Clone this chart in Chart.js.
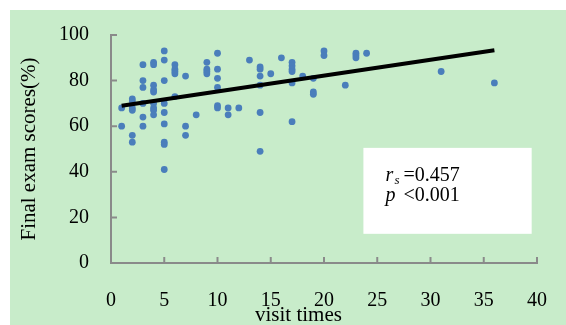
<!DOCTYPE html>
<html>
<head>
<meta charset="utf-8">
<script src="https://cdn.jsdelivr.net/npm/chart.js@4/dist/chart.umd.min.js"></script>
<style>
  html, body { margin: 0; padding: 0; background: #fff; }
  canvas { display: block; }
</style>
</head>
<body>
<canvas id="c" width="566" height="325"></canvas>
<script>
// số lần truy cập và điểm thi cuối kỳ
const visits = [
  1, 1,
  2, 2, 2, 2, 2, 2,
  3, 3, 3, 3, 3, 3,
  4, 4, 4, 4, 4, 4, 4, 4, 4,
  5, 5, 5, 5, 5, 5, 5, 5, 5,
  6, 6, 6, 6, 6,
  7, 7, 7,
  8,
  9, 9, 9, 9,
  10, 10, 10, 10, 10, 10,
  11, 11,
  12,
  13,
  14, 14, 14, 14, 14, 14,
  15,
  16,
  17, 17, 17, 17, 17, 17,
  18,
  19, 19, 19,
  20, 20,
  22,
  23, 23, 23,
  24,
  31,
  36
];
const scores = [
  68, 60,
  72, 71, 68, 67, 56, 53,
  87, 80, 77, 70, 64, 60,
  88, 87, 78, 76, 75, 70, 68, 67, 65,
  93, 89, 80, 70, 66, 61, 53, 52, 41,
  87, 85, 84, 83, 73,
  82, 60, 56,
  65,
  88, 85, 84, 83,
  92, 85, 81, 77, 69, 68,
  68, 65,
  68,
  89,
  86, 85, 82, 78, 66, 49,
  83,
  90,
  88, 86.5, 85, 84, 79, 62,
  82,
  81, 75, 74,
  93, 91,
  78,
  92, 91, 90,
  92,
  84,
  79
];
// đường xu hướng
const trendX = [1, 36];
const trendY = [69, 93.3];

const xTicks = [0, 5, 10, 15, 20, 25, 30, 35, 40];
const yTicks = [0, 20, 40, 60, 80, 100];

const serif = '"Liberation Serif", "Times New Roman", serif';
const axisGray = '#8a8a8a';

const points = visits.map((v, i) => ({ x: v, y: scores[i] }));
const trend = trendX.map((v, i) => ({ x: v, y: trendY[i] }));

// nền xanh + vạch chia hướng vào trong + hộp chú thích
const decor = {
  id: 'decor',
  beforeDraw(chart) {
    const ctx = chart.ctx;
    ctx.save();
    ctx.fillStyle = '#c8ecca';
    ctx.fillRect(10, 10, chart.width - 10, chart.height - 10);
    ctx.restore();
  },
  afterDatasetsDraw(chart) {
    const { ctx, chartArea, scales } = chart;
    const xs = scales.x, ys = scales.y;
    ctx.save();
    ctx.strokeStyle = axisGray;
    ctx.lineWidth = 2;
    ctx.beginPath();
    xTicks.forEach(t => {
      const px = xs.getPixelForValue(t);
      ctx.moveTo(px, chartArea.bottom);
      ctx.lineTo(px, chartArea.bottom - 6);
    });
    yTicks.forEach(t => {
      const py = ys.getPixelForValue(t);
      ctx.moveTo(chartArea.left, py);
      ctx.lineTo(chartArea.left + 6, py);
    });
    ctx.stroke();

    // hộp trắng
    const bx = xs.getPixelForValue(23.7), bx2 = xs.getPixelForValue(39.5);
    const by = ys.getPixelForValue(50.5), by2 = ys.getPixelForValue(12.8);
    ctx.fillStyle = '#fff';
    ctx.fillRect(bx, by, bx2 - bx, by2 - by);

    ctx.fillStyle = '#000';
    ctx.textBaseline = 'alphabetic';
    ctx.textAlign = 'left';
    const tx = bx + 22;
    ctx.font = 'italic 20px ' + serif;
    ctx.fillText('r', tx, by + 33);
    ctx.font = 'italic 13px ' + serif;
    ctx.fillText('s', tx + 9, by + 36);
    ctx.font = 'italic 20px ' + serif;
    ctx.fillText('p', tx, by + 53);
    ctx.font = '20px ' + serif;
    ctx.fillText('=0.457', tx + 18, by + 33);
    ctx.fillText('<0.001', tx + 18, by + 53);

    // tên trục x
    ctx.font = '21px ' + serif;
    ctx.textAlign = 'center';
    ctx.fillText('visit times', xs.getPixelForValue(17.6), 321);
    ctx.restore();
  }
};

new Chart(document.getElementById('c'), {
  type: 'scatter',
  data: {
    datasets: [
      {
        data: trend,
        showLine: true,
        borderColor: '#000',
        borderWidth: 4,
        pointRadius: 0,
        order: 0
      },
      {
        data: points,
        backgroundColor: '#4a7ebb',
        borderWidth: 0,
        pointRadius: 3.4,
        order: 1
      }
    ]
  },
  options: {
    responsive: false,
    animation: false,
    layout: { padding: { top: 35, right: 29, left: 0, bottom: 0 } },
    plugins: { legend: { display: false }, tooltip: { enabled: false } },
    scales: {
      x: {
        type: 'linear',
        min: 0, max: 40,
        afterBuildTicks: s => { s.ticks = xTicks.map(v => ({ value: v })); },
        ticks: { color: '#000', padding: 26, font: { family: serif, size: 20 } },
        grid: { display: false, drawTicks: false },
        border: { color: axisGray, width: 2 },
        afterFit: s => { s.height = 62; s.paddingLeft = 0; s.paddingRight = 10; }
      },
      y: {
        min: 0, max: 100,
        afterBuildTicks: s => { s.ticks = yTicks.map(v => ({ value: v })); },
        ticks: { color: '#000', padding: 22, font: { family: serif, size: 20 } },
        grid: { display: false, drawTicks: false },
        border: { color: axisGray, width: 2 },
        title: {
          display: true,
          text: 'Final exam scores(%)',
          color: '#000',
          font: { family: serif, size: 21 },
          padding: { top: 17 }
        },
        afterFit: s => { s.width = 111; }
      }
    }
  },
  plugins: [decor]
});
</script>
</body>
</html>
